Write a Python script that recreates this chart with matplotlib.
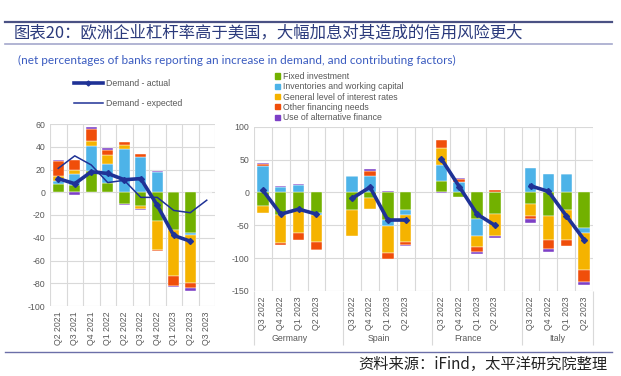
import matplotlib; matplotlib.use("Agg")
import matplotlib.pyplot as plt
import numpy as np
from matplotlib.patches import Patch
from matplotlib.lines import Line2D

plt.rcParams['font.family'] = ['Liberation Sans', 'DejaVu Sans']
plt.rcParams['axes.unicode_minus'] = False
CJK = ['Noto Sans CJK SC', 'DejaVu Sans']

GREEN, BLUE, YELLOW, ORANGE, PURPLE = "#72B100", "#4DB3E8", "#F5B300", "#F04E0A", "#7D3FC6"
NAVY = "#1F3296"
GRID = "#D9D9D9"
TXT = "#595959"

comp_names = ["Fixed investment", "Inventories and working capital",
              "General level of interest rates", "Other financing needs",
              "Use of alternative finance"]
comp_colors = [GREEN, BLUE, YELLOW, ORANGE, PURPLE]

# ---- euro area (left panel)
ea_quarters = ["Q2 2021", "Q3 2021", "Q4 2021", "Q1 2022", "Q2 2022",
               "Q3 2022", "Q4 2022", "Q1 2023", "Q2 2023", "Q3 2023"]
ea_green = [7, 6, 19, 8, -10, -12, -25, -33, -35.5, 0]
ea_blue = [2.5, 10, 22, 17, 38, 31, 17.5, 0, -2, 0]
ea_yellow = [4.5, 4, 4, 8, 3.5, -2.5, -25.5, -40.5, -42, 0]
ea_orange = [13.5, 8.5, 10.5, 4, 2.5, 3, -1.5, -8.5, -5, 0]
ea_purple = [1, -2, 1.5, 2, -0.8, -0.8, 1.5, -1.5, -2, 0]
ea_actual = [12, 7.5, 18, 16.5, 11, 12, -11.5, -38, -43, np.nan]
ea_expected = [21, 32, 24, 8.5, 10.5, -4.5, -4.5, -16, -18, -7]

# ---- countries (right panel)
countries = ["Germany", "Spain", "France", "Italy"]
quarters = ["Q3 2022", "Q4 2022", "Q1 2023", "Q2 2023"]
green = {"Germany": [-20, -35, -28, -32], "Spain": [-26, -9, -42, -26],
         "France": [18, -6.5, -40.5, -33], "Italy": [-18, -35.5, -27, -54]}
blue = {"Germany": [40, 8, 11, -3], "Spain": [25, 25, -8.5, -8.5],
        "France": [24, 16, -25.5, 0], "Italy": [37, 28, 28, -8.5]}
yellow = {"Germany": [-11, -42, -34, -40], "Spain": [-40, -16, -42, -41],
          "France": [25, 0, -17, -33], "Italy": [-17.5, -36.5, -45, -55.5]}
orange = {"Germany": [2.5, -3.5, -11, -12], "Spain": [0, 8, -9, -5],
          "France": [13, 4, -8, 4], "Italy": [-4.5, -14, -9, -18]}
purple = {"Germany": [2.5, 2, 2, -1], "Spain": [0, 2, 2, -1.5],
          "France": [-1, 2, -3, -4], "Italy": [-7, -4, 0, -5]}
actual = {"Germany": [3, -33, -25.5, -33], "Spain": [-9, 8, -42, -42],
          "France": [51, 9, -33, -50], "Italy": [10, 1.5, -35.5, -72]}


def stack(ax, x, series, width):
    pos = np.zeros(len(x)); neg = np.zeros(len(x))
    for vals, c in zip(series, comp_colors):
        v = np.asarray(vals, float)
        base = np.where(v >= 0, pos, neg)
        ax.bar(x, v, bottom=base, width=width, color=c, edgecolor="white", linewidth=0.3, zorder=2)
        pos = pos + np.clip(v, 0, None); neg = neg + np.clip(v, None, 0)


def style(ax, n):
    ax.set_xlim(-0.5, n - 0.5)
    ax.set_xticks(np.arange(n + 1) - 0.5, minor=True)
    ax.grid(True, which="minor", axis="x", color=GRID, lw=0.8, zorder=0)
    ax.grid(True, which="major", axis="y", color=GRID, lw=0.8, zorder=0)
    for s in ax.spines.values(): s.set_visible(False)
    ax.tick_params(axis="both", which="both", length=0, labelsize=6.3, colors=TXT)
    ax.tick_params(axis="x", pad=4)


fig = plt.figure(figsize=(6.21, 3.76), dpi=100)
W, H = 621, 376

# ---- left panel
axL = fig.add_axes([50 / W, 1 - 306 / H, 165 / W, 182 / H])
xl = np.arange(len(ea_quarters))
stack(axL, xl, [ea_green, ea_blue, ea_yellow, ea_orange, ea_purple], 0.66)
axL.plot(xl, ea_expected, color=NAVY, lw=1.1, zorder=3)
axL.plot(xl, ea_actual, color=NAVY, lw=2.6, marker="D", ms=3, zorder=4)
axL.set_ylim(-100, 60)
axL.set_yticks(np.arange(-100, 61, 20))
style(axL, len(ea_quarters))
axL.set_xticks(xl)
axL.set_xticklabels(ea_quarters, rotation=90)

# ---- right panel
axR = fig.add_axes([254 / W, 1 - 291 / H, 339 / W, 164.3 / H])
nq = len(quarters)
slots = len(countries) * (nq + 1) - 1
xr_all, labels = [], []
for i, c in enumerate(countries):
    xr = np.arange(nq) + i * (nq + 1)
    stack(axR, xr, [green[c], blue[c], yellow[c], orange[c], purple[c]], 0.64)
    axR.plot(xr, actual[c], color=NAVY, lw=2.6, marker="D", ms=3, zorder=4)
    xr_all.extend(xr); labels.extend(quarters)
axR.set_ylim(-150, 100)
axR.set_yticks(np.arange(-150, 101, 50))
style(axR, slots)
axR.set_xticks(xr_all)
axR.set_xticklabels(labels, rotation=90)

# group separators and country names
sec = axR.secondary_xaxis("bottom")
bounds = [i * (nq + 1) - 0.5 for i in range(len(countries))] + [slots - 0.5]
sec.set_xticks(bounds)
sec.set_xticklabels([])
sec.tick_params(axis="x", length=39, width=0.8, color=GRID, direction="out")
sec.set_xticks([i * (nq + 1) + nq / 2 - 0.5 for i in range(len(countries))], minor=True)
sec.set_xticklabels(countries, minor=True)
sec.tick_params(axis="x", which="minor", length=0, pad=31, labelsize=6.3, colors=TXT)
sec.spines["bottom"].set_visible(False)

# legends
fig.legend(handles=[Line2D([], [], color=NAVY, lw=2.6, marker="D", ms=2.5),
                    Line2D([], [], color=NAVY, lw=1.1)],
           labels=["Demand - actual", "Demand - expected"],
           loc="upper left", bbox_to_anchor=(74 / W, 1 - 79 / H), frameon=False,
           fontsize=6.3, handlelength=3.3, labelspacing=1.3, handletextpad=0.4,
           labelcolor=TXT, borderpad=0, borderaxespad=0)
fig.legend(handles=[Patch(color=c) for c in comp_colors], labels=comp_names,
           loc="upper left", bbox_to_anchor=(275 / W, 1 - 72 / H), frameon=False,
           fontsize=6.3, handlelength=0.55, handleheight=0.55, handletextpad=0.4,
           labelspacing=0.15, labelcolor=TXT, borderpad=0, borderaxespad=0)

# header / footer
fig.add_artist(Line2D([5 / W, 612 / W], [1 - 22 / H] * 2, color="#4A5184", lw=1.6))
fig.add_artist(Line2D([5 / W, 612 / W], [1 - 43.5 / H] * 2, color="#A4A8CC", lw=1.2))
fig.text(14 / W, 1 - 33 / H, "图表20：欧洲企业杠杆率高于美国，大幅加息对其造成的信用风险更大",
         family=CJK, fontsize=11.8, color="#2B3A7C", va="center", ha="left")
fig.text(18 / W, 1 - 60 / H,
         "(net percentages of banks reporting an increase in demand, and contributing factors)",
         family=["Lato", "DejaVu Sans"], fontsize=8.5, color="#3A5BC0", va="center", ha="left")
fig.add_artist(Line2D([5 / W, 612 / W], [1 - 352 / H] * 2, color="#6B6FA8", lw=1.0))
fig.text(607 / W, 1 - 364 / H, "资料来源：iFind，太平洋研究院整理",
         family=CJK, fontsize=11, color="#222222", va="center", ha="right")

fig.savefig("out.png", dpi=100)
